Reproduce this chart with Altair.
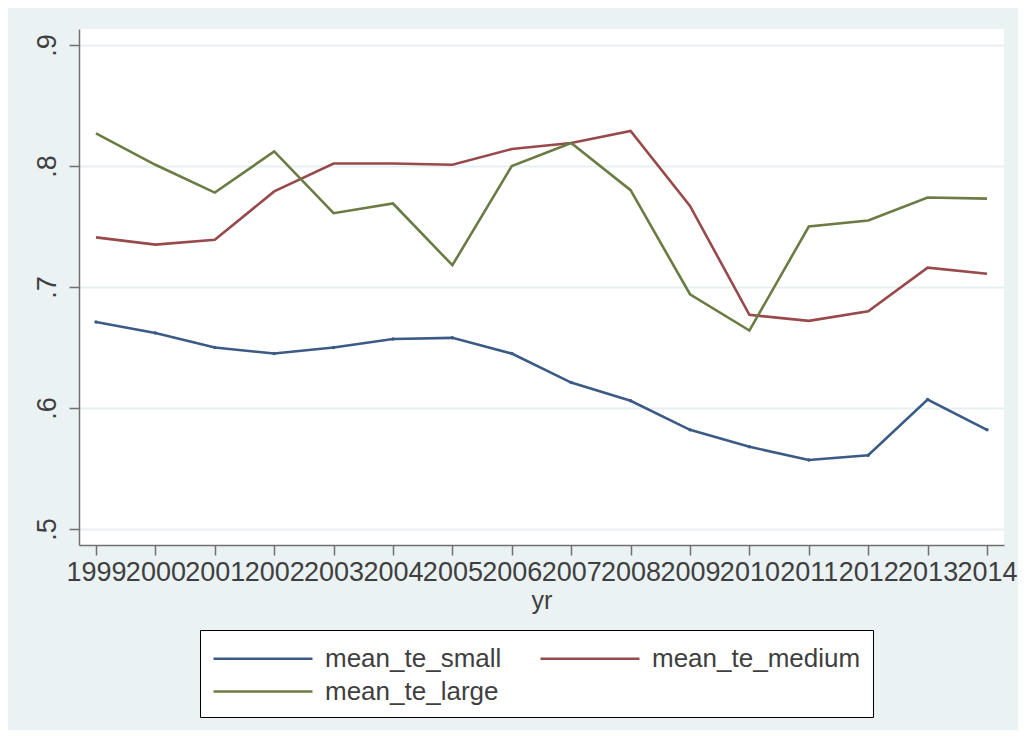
import altair as alt
import pandas as pd

years = list(range(1999, 2015))
mean_te_small = [0.671, 0.662, 0.650, 0.645, 0.650, 0.657, 0.658, 0.645,
                 0.621, 0.606, 0.582, 0.568, 0.557, 0.561, 0.607, 0.582]
mean_te_medium = [0.741, 0.735, 0.739, 0.779, 0.802, 0.802, 0.801, 0.814,
                  0.819, 0.829, 0.767, 0.677, 0.672, 0.680, 0.716, 0.711]
mean_te_large = [0.827, 0.801, 0.778, 0.812, 0.761, 0.769, 0.718, 0.800,
                 0.819, 0.780, 0.694, 0.664, 0.750, 0.755, 0.774, 0.773]

series_names = ["mean_te_small", "mean_te_medium", "mean_te_large"]
series_colors = ["#3B5B86", "#98494C", "#6A7C44"]

rows = []
for name, vals in zip(series_names, [mean_te_small, mean_te_medium, mean_te_large]):
    for y, v in zip(years, vals):
        rows.append({"yr": y, "value": v, "series": name})
df = pd.DataFrame(rows)

FONT = "Liberation Sans"
TXT = "#3F3F3F"
AXIS = "#707070"

x = alt.X(
    "yr:Q",
    scale=alt.Scale(domain=[1998.714, 2014.286], nice=False, zero=False),
    axis=alt.Axis(
        values=years, format="d", title="yr", grid=False,
        labelFontSize=27, labelFont=FONT, labelColor=TXT,
        titleFontSize=25, titleFont=FONT, titleColor=TXT, titleFontWeight="normal",
        titlePadding=3, labelPadding=4, labelFlush=False, labelOverlap=False,
        tickSize=10, tickColor=AXIS, tickWidth=1.5,
        domainColor=AXIS, domainWidth=1.5,
    ),
)
y = alt.Y(
    "value:Q",
    scale=alt.Scale(domain=[0.4868, 0.9132], nice=False, zero=False),
    axis=alt.Axis(
        values=[0.5, 0.6, 0.7, 0.8, 0.9], title=None,
        labelExpr="'.' + round(datum.value * 10)",
        labelAngle=270, labelAlign="center", labelBaseline="bottom",
        labelFontSize=27, labelFont=FONT, labelColor=TXT, labelPadding=8,
        tickSize=10, tickColor=AXIS, tickWidth=1.5,
        domainColor=AXIS, domainWidth=1.5,
        grid=True, gridColor="#E6EFF2", gridWidth=2,
    ),
)

lines = alt.Chart(df).mark_line(strokeWidth=2.6).encode(
    x=x, y=y,
    color=alt.Color(
        "series:N",
        scale=alt.Scale(domain=series_names, range=series_colors),
        legend=alt.Legend(
            title=None, orient="none", legendX=121, legendY=601,
            columns=2, direction="horizontal",
            symbolType="M-1,0L5.6,0", symbolSize=900, symbolStrokeWidth=2.5,
            labelFontSize=26, labelFont=FONT, labelColor=TXT,
            labelOffset=80, rowPadding=3, columnPadding=33,
            padding=12, strokeColor="#000000", fillColor="#FFFFFF",
            labelLimit=400,
        ),
    ),
    detail="series:N",
)

points = alt.Chart(df).transform_filter(
    alt.datum.series == "mean_te_small"
).mark_point(filled=True, size=12, opacity=1).encode(
    x=x, y=y, color=alt.value(series_colors[0])
)

chart = alt.layer(lines, points).properties(
    width=925, height=516,
    autosize=alt.AutoSizeParams(type="none"),
    padding={"left": 71, "top": 21, "right": 14, "bottom": 185},
    background="#EAF2F3",
).configure_view(stroke=None, fill="#FFFFFF")

chart.save("out.html", embed_options={"renderer": "svg", "actions": False})
